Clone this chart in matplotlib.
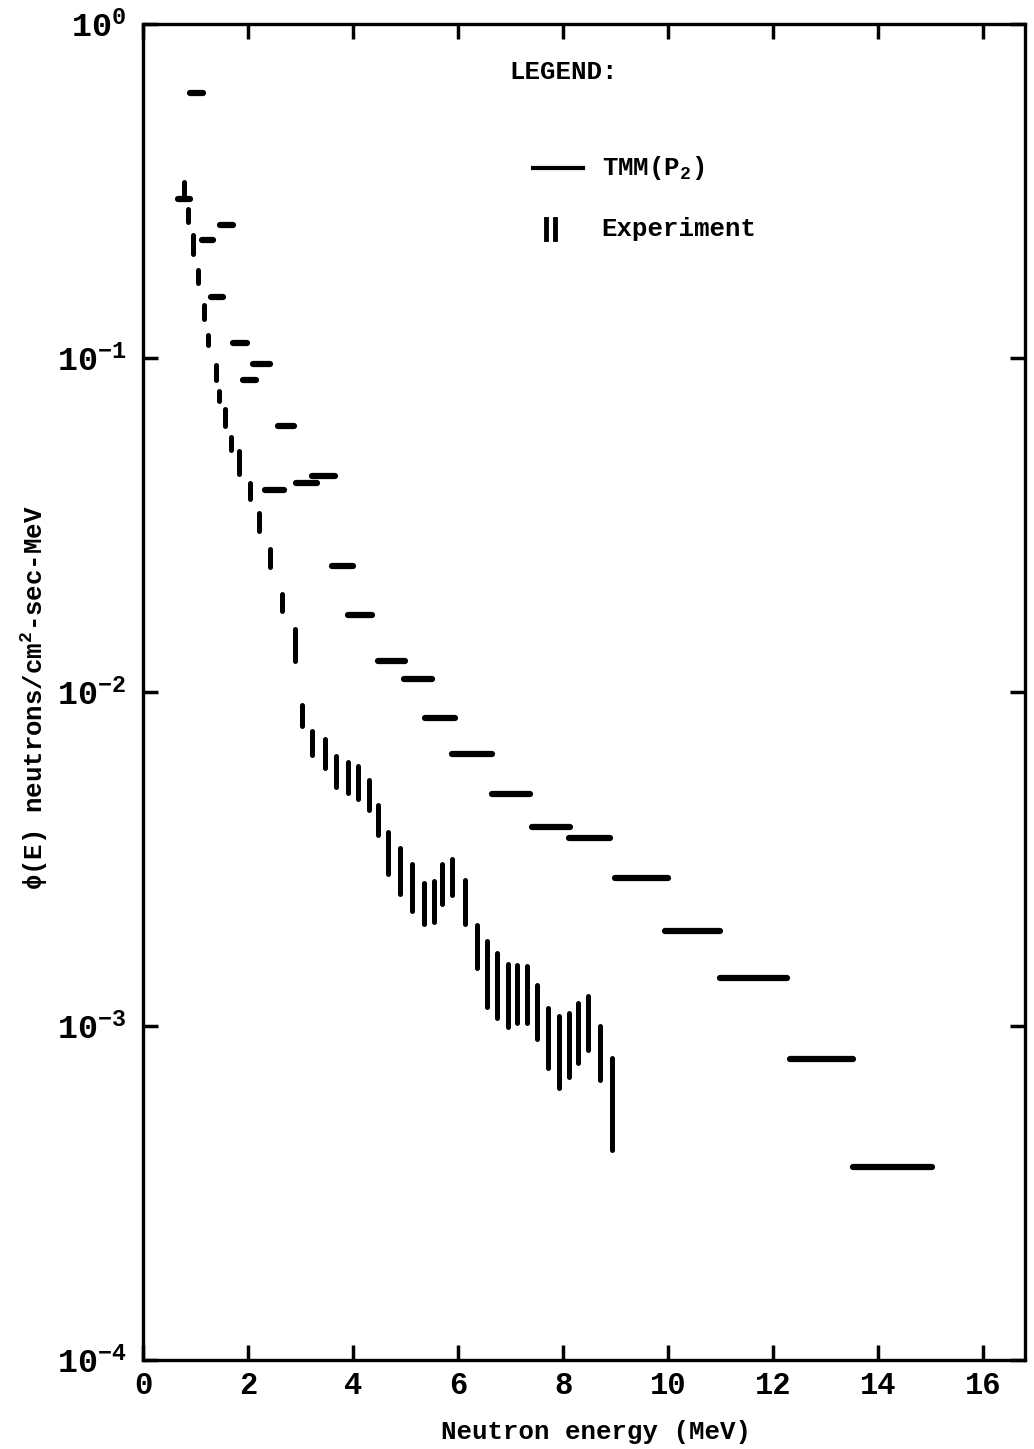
import matplotlib
matplotlib.use("Agg")
import matplotlib.pyplot as plt
from matplotlib.ticker import LogLocator, NullLocator, FixedLocator

plt.rcParams['font.family'] = ['Liberation Mono', 'DejaVu Sans Mono']
plt.rcParams['font.weight'] = 'bold'
plt.rcParams['mathtext.fontset'] = 'custom'
plt.rcParams['mathtext.rm'] = 'Liberation Mono:bold'
plt.rcParams['mathtext.it'] = 'Liberation Mono:bold'
plt.rcParams['mathtext.bf'] = 'Liberation Mono:bold'
plt.rcParams['mathtext.default'] = 'regular'

# TMM(P2) group fluxes: lower edge, upper edge, value
tmm_lo = [0.66, 0.90, 1.12, 1.30, 1.47, 1.71, 1.90, 2.09, 2.57, 2.32, 2.91, 3.22,
          3.60, 3.90, 4.48, 4.97, 5.37, 5.89, 6.65, 7.41, 8.11, 8.99, 9.94,
          10.99, 12.32, 13.52]
tmm_hi = [0.90, 1.14, 1.33, 1.52, 1.72, 1.98, 2.15, 2.42, 2.88, 2.69, 3.31, 3.66,
          4.00, 4.36, 4.99, 5.50, 5.94, 6.65, 7.37, 8.13, 8.90, 10.00, 10.99,
          12.27, 13.52, 15.03]
tmm_val = [0.30, 0.62, 0.226, 0.152, 0.25, 0.111, 0.0857, 0.0957, 0.0624, 0.0402,
           0.0422, 0.0442, 0.0238, 0.0170, 0.0124, 0.0109, 0.00836, 0.00653,
           0.00496, 0.00395, 0.00366, 0.00278, 0.00193, 0.00139, 0.000794,
           0.000378]

# experiment: energy, upper, lower
exp_e = [0.78, 0.86, 0.95, 1.05, 1.17, 1.24, 1.39, 1.45, 1.56, 1.68, 1.83, 2.04,
         2.21, 2.42, 2.65, 2.90, 3.03, 3.22, 3.47, 3.68, 3.90, 4.10, 4.30, 4.48,
         4.67, 4.90, 5.12, 5.35, 5.54, 5.70, 5.89, 6.13, 6.36, 6.55, 6.74, 6.95,
         7.12, 7.31, 7.50, 7.71, 7.92, 8.11, 8.29, 8.48, 8.70, 8.93]
exp_hi = [0.337, 0.28, 0.234, 0.183, 0.1445, 0.1175, 0.095, 0.0794, 0.0702, 0.0582,
          0.0525, 0.0422, 0.0343, 0.0268, 0.0196, 0.0154, 0.00915, 0.00764,
          0.00724, 0.00644, 0.00618, 0.0060, 0.00546, 0.00459, 0.00381, 0.0034,
          0.00306, 0.00268, 0.00272, 0.00306, 0.00317, 0.00274, 0.00201, 0.0018,
          0.00165, 0.00153, 0.00152, 0.00151, 0.00133, 0.00113, 0.00107, 0.00109,
          0.00117, 0.00123, 0.00100, 0.00080]
exp_lo = [0.30, 0.256, 0.205, 0.168, 0.131, 0.109, 0.0857, 0.0741, 0.0624, 0.0529,
          0.0451, 0.0378, 0.0303, 0.0236, 0.0175, 0.0124, 0.0079, 0.00648,
          0.00593, 0.0052, 0.00499, 0.00479, 0.00444, 0.00374, 0.00286, 0.00249,
          0.00221, 0.00202, 0.00205, 0.00232, 0.00247, 0.00202, 0.00149, 0.00114,
          0.00106, 0.00099, 0.00102, 0.00102, 0.000912, 0.000751, 0.00065,
          0.000702, 0.000773, 0.000845, 0.000687, 0.000425]

x_ticks = [0, 2, 4, 6, 8, 10, 12, 14, 16]
y_ticks = [1e-4, 1e-3, 1e-2, 1e-1, 1]
y_labels = ['$10^{-4}$', '$10^{-3}$', '$10^{-2}$', '$10^{-1}$', '$10^{0}$']

fig = plt.figure(figsize=(10.34, 14.49), dpi=100)
ax = fig.add_axes([143 / 1034, 1 - 1360 / 1449, (1025 - 143) / 1034, (1360 - 24) / 1449])
ax.set_yscale('log')
ax.set_xlim(0, 16.8)
ax.set_ylim(1e-4, 1)

ax.hlines(tmm_val, tmm_lo, tmm_hi, colors='black', linewidth=4.5, capstyle='round')
ax.vlines(exp_e, exp_lo, exp_hi, colors='black', linewidth=3.6, capstyle='round')

ax.xaxis.set_major_locator(FixedLocator(x_ticks))
ax.set_yticks(y_ticks)
ax.set_yticklabels(y_labels)
ax.yaxis.set_minor_locator(NullLocator())
ax.tick_params(which='both', direction='in', length=11, width=2.5,
               top=True, right=True, labelsize=22)
ax.tick_params(axis='x', pad=8)
ax.tick_params(axis='y', pad=12, labelsize=24)
for sp in ax.spines.values():
    sp.set_linewidth(2.4)

fig.text(596 / 1034, 1 - 1432 / 1449, 'Neutron energy (MeV)', ha='center',
         va='center', fontsize=18.5)
fig.text(35 / 1034, 1 - 698 / 1449, 'ϕ(E) neutrons/cm$^{2}$-sec-MeV', rotation=90,
         ha='center', va='center', fontsize=18.5)

# legend
fig.text(509 / 1034, 1 - 72 / 1449, 'LEGEND:', fontsize=18.5, va='center')
leg_y = 1 - 168 / 1449
fig.add_artist(plt.Line2D([533 / 1034, 583 / 1034], [leg_y, leg_y], color='black',
                          linewidth=3))
fig.text(602 / 1034, leg_y, 'TMM(P$_{2}$)', fontsize=18.5, va='center')
ey = 1 - 229 / 1449
for dx in (546, 555):
    fig.add_artist(plt.Line2D([dx / 1034, dx / 1034], [ey - 10 / 1449, ey + 10 / 1449],
                              color='black', linewidth=3.5))
fig.text(601 / 1034, ey, 'Experiment', fontsize=18.5, va='center')

fig.savefig('out.png', dpi=100)
